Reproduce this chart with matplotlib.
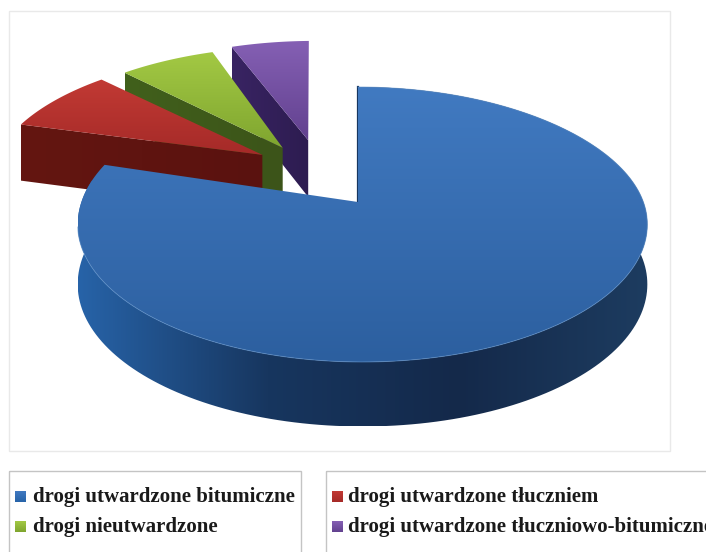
import numpy as np
from matplotlib import pyplot as plt
from matplotlib.colors import LinearSegmentedColormap
from matplotlib.patches import Polygon, Rectangle

# shares of each road type, %
labels = ['drogi utwardzone bitumiczne', 'drogi utwardzone tłuczniem',
          'drogi nieutwardzone', 'drogi utwardzone tłuczniowo-bitumiczne']
shares = [79.7, 8.1, 6.7, 5.5]

# how far each slice is pulled out, in which direction (degrees), small turn of the slice
explode = [0.0, 0.52, 0.52, 0.535]
explode_dir = [0.0, 134.0, 123.5, 111.0]
turn = [0.0, 1.5, 0.5, 1.5]

top_colors = [('#417ac1', '#2c5f9f'), ('#c23a34', '#a52a28'),
              ('#a3c944', '#7fa52f'), ('#8560b4', '#62418f')]
wall_colors = [('#2763a8', '#17365f', '#14294a', '#1d3c60'), ('#641611', '#5a120f'),
               ('#41601c', '#3c5419'), ('#392463', '#2d1c50')]

# fake perspective of the tilted disc, in image pixels
CX, CY = 358.0, 202.0
SX, SY, K = 281.0, 133.8, 0.1636
DEPTH = 59.0
RIM_SHIFT = 4.5


def project(x, y):
    w = 1 + K * y
    return CX + SX * x / w, CY - SY * y / w


def wall_drop(y):
    return DEPTH / np.sqrt(1 + K * y)


def gradient(ax, pts, colors, vertical, z):
    cmap = LinearSegmentedColormap.from_list('g', colors)
    pts = np.array(pts)
    x0, y0 = pts.min(axis=0)
    x1, y1 = pts.max(axis=0)
    ramp = np.linspace(0, 1, 256)
    ramp = ramp[:, None] if vertical else ramp[None, :]
    im = ax.imshow(ramp, cmap=cmap, extent=(x0, x1, y1, y0), origin='upper',
                   aspect='auto', zorder=z, interpolation='bilinear')
    patch = Polygon(pts, closed=True, fc='none', ec='none', transform=ax.transData)
    ax.add_patch(patch)
    im.set_clip_path(patch)


fig = plt.figure(figsize=(7.06, 5.52), dpi=100)
ax = fig.add_axes([0, 0, 1, 1])

# slices run anticlockwise from 12 o'clock, last one in the list first
angles = np.array(shares) / sum(shares) * 360
spans = {}
start = 90.0
order = [3, 2, 1, 0]
for i in order:
    spans[i] = (start, start + angles[i])
    start += angles[i]

z = 1
for i in order:
    a0, a1 = spans[i]
    ox = explode[i] * np.cos(np.radians(explode_dir[i]))
    oy = explode[i] * np.sin(np.radians(explode_dir[i]))
    t = np.radians(np.linspace(a0, a1, 200) + turn[i])
    rx, ry = ox + np.cos(t), oy + np.sin(t)
    px, py = project(rx, ry)
    apex = project(ox, oy)

    if i == 0:
        # the rim of the big slice sits a bit right of its apex in the lower half
        s = np.clip((1 - ry) / 1.1, 0, 1)
        px = px + RIM_SHIFT * s * s * (3 - 2 * s)
        drop = wall_drop(ry)
        keep = np.degrees(t) > 170
        wall = list(zip(px[keep], py[keep])) + list(zip(px[keep][::-1], (py + drop)[keep][::-1]))
        gradient(ax, wall, wall_colors[i], False, z)
        z += 1
        # thin dark cut along the 12 o'clock edge
        ax.plot([px[-1], apex[0]], [py[-1], apex[1]], color='#17365f', lw=1.6, zorder=z)
    else:
        # cut face on the anticlockwise edge, facing the viewer
        d_end = wall_drop(ry[-1])
        d_apex = wall_drop(oy)
        wall = [(px[-1], py[-1]), apex, (apex[0], apex[1] + d_apex), (px[-1], py[-1] + d_end)]
        gradient(ax, wall, wall_colors[i], False, z)
        z += 1

    top = [apex] + list(zip(px, py))
    gradient(ax, top, top_colors[i], True, z)
    z += 1
    if i == 0:
        front = np.degrees(t) > 190
        ax.plot(px[front], py[front], color='#5c8fc9', lw=0.7, alpha=0.6, zorder=z)

# plot area frame and the two legend boxes
ax.add_patch(Rectangle((8.5, 10.5), 661, 440, fc='none', ec='#e9e9e9', lw=1, zorder=20))
ax.add_patch(Rectangle((8.5, 470.5), 292, 100, fc='none', ec='#c4c4c4', lw=1, zorder=20))
ax.add_patch(Rectangle((325.5, 470.5), 400, 100, fc='none', ec='#c4c4c4', lw=1, zorder=20))

swatch_x = [15, 332, 15, 332]
swatch_y = [491, 491, 521, 521]
text_x = [33, 348, 33, 348]
text_y = [497, 497, 527, 527]
for i in range(4):
    x, y = swatch_x[i], swatch_y[i]
    gradient(ax, [(x, y), (x + 11, y), (x + 11, y + 11), (x, y + 11)],
             (top_colors[i][0], wall_colors[i][0] if i == 0 else top_colors[i][1]), True, 21)
    ax.text(text_x[i], text_y[i], labels[i], family='Liberation Serif', weight='bold',
            fontsize=15, color='#1a1a1a', va='center', ha='left', zorder=22)

ax.set_xlim(0, 706)
ax.set_ylim(552, 0)
ax.axis('off')
fig.savefig('out.png', dpi=100, facecolor='white')
